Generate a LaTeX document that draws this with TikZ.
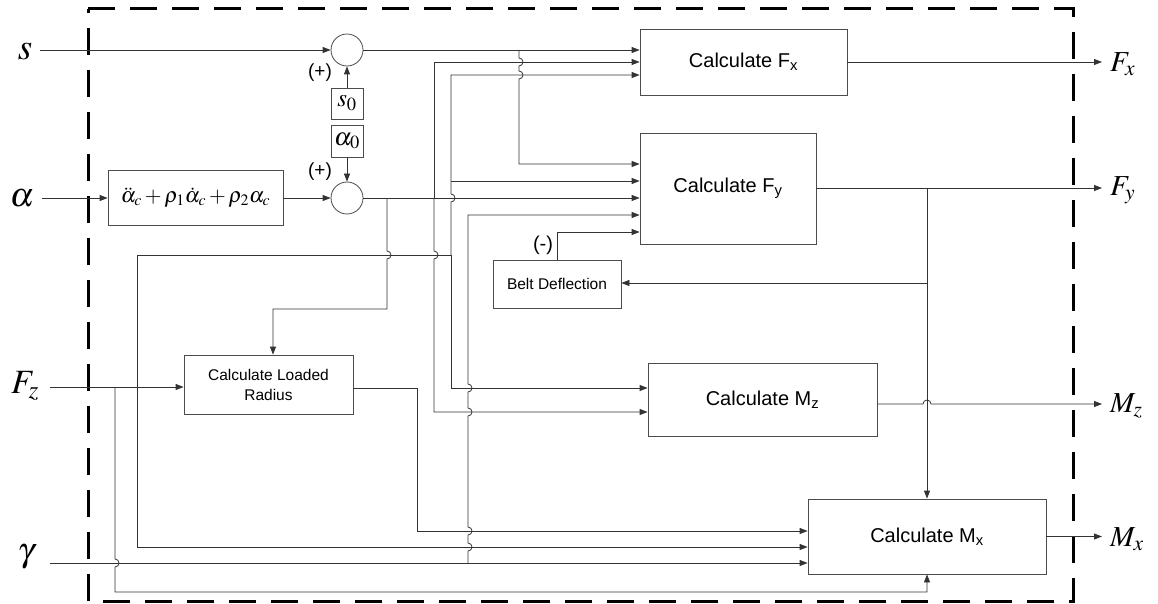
\documentclass[tikz,border=0pt]{standalone}
\usepackage{mathptmx}
\usepackage[no-math]{fontspec}
\setmainfont{Liberation Sans}
\usetikzlibrary{arrows.meta,calc}
\begin{document}
\begin{tikzpicture}[x=1pt,y=1pt,
  ln/.style={line width=0.8pt, draw=black!80},
  arr/.style={ln, -{Triangle[length=8pt,width=6pt]}},
  blk/.style={draw=black!70, line width=0.8pt, fill=white, inner sep=0pt, align=center},
  bigtxt/.style={font=\fontsize{20}{22}\selectfont},
  smalltxt/.style={font=\fontsize{15.5}{20}\selectfont},
  lbl/.style={inner sep=0pt},
  hopdown/.style={to path={-- ([yshift=4pt]\tikztotarget) arc[start angle=90,end angle=-90,radius=4pt]}},
  hopup/.style={to path={-- ([yshift=-4pt]\tikztotarget) arc[start angle=-90,end angle=90,radius=4pt]}},
  hopright/.style={to path={-- ([xshift=-4pt]\tikztotarget) arc[start angle=180,end angle=0,radius=4pt]}},
]
\useasboundingbox (0,0) rectangle (1158,-604);

% dashed system boundary
\draw[line width=3pt, dash pattern=on 27pt off 15pt] (88,-9) -- (1073,-9) -- (1073,-601) -- (88,-601) -- cycle;

% blocks
\node[blk, bigtxt, minimum width=207pt, minimum height=66pt] (Fx) at (743.5,-62) {Calculate F\textsubscript{x}};
\node[blk, bigtxt, minimum width=176pt, minimum height=111pt] (Fy) at (728,-188.5) {Calculate F\textsubscript{y}};
\node[blk, bigtxt, minimum width=229pt, minimum height=73pt] (Mz) at (762.5,-399.5) {Calculate M\textsubscript{z}};
\node[blk, bigtxt, minimum width=238pt, minimum height=75pt] (Mx) at (927,-536.5) {Calculate M\textsubscript{x}};
\node[blk, smalltxt, minimum width=169pt, minimum height=59pt] (LR) at (268.5,-384.5) {Calculate Loaded\\Radius};
\node[blk, smalltxt, minimum width=128pt, minimum height=48pt] (BD) at (557,-284) {Belt Deflection};
\node[blk, minimum width=175pt, minimum height=55pt, font=\fontsize{21.5}{22}\selectfont] (FM) at (195.5,-197.5) {$\ddot{\alpha}_c+\rho_1\dot{\alpha}_c+\rho_2\alpha_c$};
\node[blk, minimum width=32pt, minimum height=31pt, font=\fontsize{25}{25}\selectfont] (s0) at (347,-103.5) {$s_0$};
\node[blk, minimum width=32pt, minimum height=32pt, font=\fontsize{25}{25}\selectfont] (a0) at (347,-141) {$\alpha_0$};
\node[blk, circle, minimum size=32pt] (c1) at (347,-50) {};
\node[blk, circle, minimum size=32pt] (c2) at (347,-198) {};

% sign labels
\node[lbl, font=\fontsize{19}{19}\selectfont] (p1) at (320,-73) {(+)};
\node[lbl, font=\fontsize{19}{19}\selectfont] (p2) at (320,-172) {(+)};
\node[lbl, font=\fontsize{20}{20}\selectfont] (m1) at (543,-245) {(-)};

% input / output labels
\node[lbl, font=\fontsize{37}{37}\selectfont] (ls) at (25,-52) {$s$};
\node[lbl, font=\fontsize{34}{34}\selectfont] (la) at (22,-198) {$\alpha$};
\node[lbl, font=\fontsize{34}{34}\selectfont] (lfz) at (25,-386) {$F_z$};
\node[lbl, font=\fontsize{34}{34}\selectfont] (lg) at (26,-557) {$\gamma$};
\node[lbl, anchor=west, font=\fontsize{29}{29}\selectfont] (lfx) at (1110,-64) {$F_x$};
\node[lbl, anchor=west, font=\fontsize{29}{29}\selectfont] (lfy) at (1110,-190) {$F_y$};
\node[lbl, anchor=west, font=\fontsize{29}{29}\selectfont] (lmz) at (1110,-406) {$M_z$};
\node[lbl, anchor=west, font=\fontsize{29}{29}\selectfont] (lmx) at (1110,-539) {$M_x$};

% coordinates
\coordinate (sin) at (40,-50);
\coordinate (ain) at (42,-198);
\coordinate (fzin) at (50,-387);
\coordinate (gin) at (50,-563);
\coordinate (xo) at (1102,0);
\coordinate (j519) at (519,-50);
\coordinate (j434) at (434,-198);
\coordinate (j451) at (451,-255);
\coordinate (j451b) at (451,-181);
\coordinate (j387) at (387,-198);
\coordinate (j468) at (468,-563);
\coordinate (j115) at (115,-387);
\coordinate (j137) at (137,-387);
\coordinate (j927) at (927,-188);
\coordinate (j927b) at (927,-283);

% inputs
\draw[arr] (sin) -- (c1);
\draw[arr] (ain) -- (ain -| FM.west);
\draw[arr] (FM.east |- c2) -- (c2);
\draw[arr] (s0.north) -- (c1.south);
\draw[arr] (a0.south) -- (c2.north);
\draw[arr] (fzin) -- (fzin -| LR.west);
\draw[arr] (gin) -- (gin -| Mx.west);

% s path
\draw[arr] (c1) -- (Fx.west |- c1);
\draw[arr] (j519) to[hopdown] (519,-62) to[hopdown] (519,-75) |- (Fy.west |- 0,-164);

% alpha path
\draw[arr] (c2) -- (Fy.west |- c2);
\draw[arr] (j434) |- (Fx.west |- 0,-62);
\draw[arr] (j434) to[hopdown] (434,-255) |- (Mz.west |- 0,-412);
\draw[arr] (j387) to[hopdown] (387,-255) -- (387,-309) -| (273,0 |- LR.north);

% Fz path
\draw[ln] (j137) |- (j451);
\draw[arr] (j451) to[hopup] (451,-198) |- (Fx.west |- 0,-75);
\draw[arr] (j451b) -- (Fy.west |- j451b);
\draw[arr] (j451) |- (Mz.west |- 0,-388);
\draw[arr] (j137) |- (Mx.west |- 0,-547);
\draw[arr] (j115) to[hopdown] (115,-563) -- (115,-592) -| (Mx.south);

% loaded radius output
\draw[arr] (LR.east |- 0,-388) -| (417,-531) -- (Mx.west |- 0,-531);

% camber to Fy
\draw[arr] (j468) to[hopup] (468,-547) to[hopup] (468,-531) to[hopup] (468,-412) to[hopup] (468,-388) |- (Fy.west |- 0,-215);

% belt deflection
\draw[arr] (BD.north) |- (Fy.west |- 0,-232);
\draw[arr] (j927b) -- (BD.east |- j927b);

% outputs
\draw[arr] (Fx.east) -- (Fx.east -| xo);
\draw[arr] (Fy.east |- j927) -- (xo |- j927);
\draw[arr] (j927) -- (Mx.north);
\draw[arr] (Mz.east |- 0,-404) to[hopright] (927,-404) -- (xo |- 0,-404);
\draw[arr] (Mx.east) -- (Mx.east -| xo);
\end{tikzpicture}
\end{document}
